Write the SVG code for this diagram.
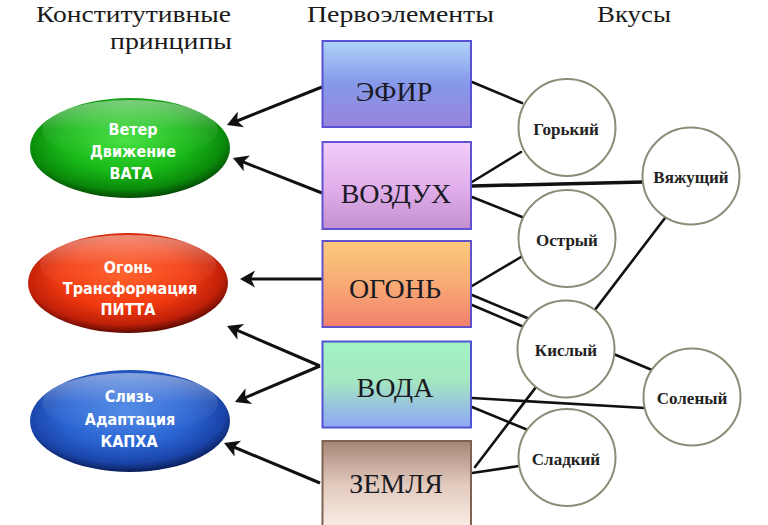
<svg xmlns="http://www.w3.org/2000/svg" width="768" height="525" viewBox="0 0 768 525">
<defs>
<style>
.hdr{font-family:"Liberation Serif","Times New Roman",serif;font-size:24px;fill:#1a1a1a}
.box{stroke-width:2}
.btxt{font-family:"Liberation Serif","Times New Roman",serif;font-size:28px;fill:#1a1a22;text-anchor:middle}
.ctxt{font-family:"Liberation Serif","Times New Roman",serif;font-size:17px;font-weight:bold;fill:#222;text-anchor:middle}
.circ{fill:#fff;stroke:#8c8c78;stroke-width:2}
.etxt{font-family:"DejaVu Sans Condensed","DejaVu Sans",sans-serif;font-size:16px;font-weight:bold;fill:#fff;text-anchor:middle}
.ln{stroke:#111;stroke-width:2.6;fill:none;stroke-linecap:round}
.arr{stroke:#111;stroke-width:3;fill:none;marker-end:url(#ah)}
</style>
<marker id="ah" markerUnits="userSpaceOnUse" viewBox="-8 -10 18 20" markerWidth="18" markerHeight="20" refX="0" refY="0" orient="auto">
<path d="M8,0 L-7,-8.5 L-3,0 L-7,8.5 Z" fill="#111"/>
</marker>
<linearGradient id="gEfir" x1="0" y1="0" x2="0" y2="1">
<stop offset="0" stop-color="#aed2f8"/><stop offset="0.5" stop-color="#8598ea"/><stop offset="1" stop-color="#9a84dc"/>
</linearGradient>
<linearGradient id="gVozd" x1="0" y1="0" x2="0" y2="1">
<stop offset="0" stop-color="#f2cdfa"/><stop offset="0.5" stop-color="#e2b0ec"/><stop offset="1" stop-color="#c48fcf"/>
</linearGradient>
<linearGradient id="gOgon" x1="0" y1="0" x2="0" y2="1">
<stop offset="0" stop-color="#fbca7c"/><stop offset="0.5" stop-color="#f8aa74"/><stop offset="1" stop-color="#f2806e"/>
</linearGradient>
<linearGradient id="gVoda" x1="0" y1="0" x2="0" y2="1">
<stop offset="0" stop-color="#a2f2c8"/><stop offset="0.45" stop-color="#a4e8c0"/><stop offset="1" stop-color="#8ea6f6"/>
</linearGradient>
<linearGradient id="gZem" x1="0" y1="0" x2="0" y2="1">
<stop offset="0" stop-color="#a68676"/><stop offset="0.5" stop-color="#e2cabe"/><stop offset="1" stop-color="#fbeee6"/>
</linearGradient>
<radialGradient id="rGreen" cx="0.48" cy="0.42" r="0.58">
<stop offset="0" stop-color="#3ee03a"/><stop offset="0.55" stop-color="#18b818"/><stop offset="0.85" stop-color="#0a8a0a"/><stop offset="1" stop-color="#034a03"/>
</radialGradient>
<radialGradient id="rRed" cx="0.48" cy="0.42" r="0.58">
<stop offset="0" stop-color="#ff5a22"/><stop offset="0.55" stop-color="#f23a10"/><stop offset="0.85" stop-color="#c02008"/><stop offset="1" stop-color="#5e0a02"/>
</radialGradient>
<radialGradient id="rBlue" cx="0.48" cy="0.42" r="0.58">
<stop offset="0" stop-color="#4a86e6"/><stop offset="0.55" stop-color="#2a64d2"/><stop offset="0.85" stop-color="#1a44a8"/><stop offset="1" stop-color="#0a1e5a"/>
</radialGradient>
<linearGradient id="gloss" x1="0" y1="0" x2="0" y2="1">
<stop offset="0" stop-color="#fff" stop-opacity="0.45"/><stop offset="0.5" stop-color="#fff" stop-opacity="0.08"/><stop offset="1" stop-color="#fff" stop-opacity="0"/>
</linearGradient>
</defs>
<rect width="768" height="525" fill="#fff"/>

<g id="headers">
<text class="hdr" x="231" y="22" text-anchor="end" textLength="195" lengthAdjust="spacingAndGlyphs">Конститутивные</text>
<text class="hdr" x="232" y="49" text-anchor="end" textLength="122" lengthAdjust="spacingAndGlyphs">принципы</text>
<text class="hdr" x="307" y="22" textLength="187" lengthAdjust="spacingAndGlyphs">Первоэлементы</text>
<text class="hdr" x="597" y="22" textLength="74" lengthAdjust="spacingAndGlyphs">Вкусы</text>
</g>

<g id="connectors">
<line class="arr" x1="322" y1="87" x2="234.4" y2="122"/>
<line class="arr" x1="322" y1="193" x2="240.4" y2="160.9"/>
<line class="arr" x1="322" y1="279" x2="248" y2="279"/>
<line class="arr" x1="320" y1="366" x2="234.4" y2="329.1"/>
<line class="arr" x1="320" y1="366" x2="242.4" y2="398.9"/>
<line class="arr" x1="320" y1="483" x2="231.4" y2="446"/>
<line class="ln" x1="472" y1="82" x2="522" y2="103"/>
<line class="ln" x1="472" y1="182" x2="521" y2="152"/>
<line class="ln" x1="472" y1="186" x2="643" y2="182" style="stroke-width:3.5"/>
<line class="ln" x1="472" y1="197" x2="522" y2="217"/>
<line class="ln" x1="472" y1="286" x2="521" y2="257"/>
<line class="ln" x1="472" y1="295" x2="652" y2="370"/>
<line class="ln" x1="472" y1="305" x2="524" y2="327"/>
<line class="ln" x1="475" y1="467" x2="665" y2="218"/>
<line class="ln" x1="472" y1="398" x2="645" y2="408"/>
<line class="ln" x1="472" y1="407" x2="528" y2="430"/>
<line class="ln" x1="472" y1="473" x2="519" y2="466"/>
</g>

<g id="vata">
<ellipse cx="130" cy="148" rx="100" ry="50" fill="url(#rGreen)"/>
<ellipse cx="130" cy="130" rx="88" ry="30" fill="url(#gloss)"/>
<text class="etxt" x="133" y="135">Ветер</text>
<text class="etxt" x="133" y="157">Движение</text>
<text class="etxt" x="131" y="179">ВАТА</text>
</g>
<g id="pitta">
<ellipse cx="128" cy="283" rx="100" ry="50" fill="url(#rRed)"/>
<ellipse cx="128" cy="265" rx="88" ry="30" fill="url(#gloss)"/>
<text class="etxt" x="128" y="273">Огонь</text>
<text class="etxt" x="130" y="294">Трансформация</text>
<text class="etxt" x="128" y="315">ПИТТА</text>
</g>
<g id="kapha">
<ellipse cx="130" cy="421" rx="100" ry="51" fill="url(#rBlue)"/>
<ellipse cx="130" cy="403" rx="88" ry="30" fill="url(#gloss)"/>
<text class="etxt" x="129" y="402">Слизь</text>
<text class="etxt" x="130" y="425">Адаптация</text>
<text class="etxt" x="129" y="447">КАПХА</text>
</g>

<g id="efir">
<rect class="box" x="322.5" y="41" width="148.5" height="86" fill="url(#gEfir)" stroke="#5a50d2"/>
<text class="btxt" x="394" y="101">ЭФИР</text>
</g>
<g id="vozduh">
<rect class="box" x="322.5" y="142" width="148.5" height="87" fill="url(#gVozd)" stroke="#6052d0"/>
<text class="btxt" x="396" y="203">ВОЗДУХ</text>
</g>
<g id="ogon">
<rect class="box" x="322.5" y="241" width="148.5" height="86" fill="url(#gOgon)" stroke="#6252c8"/>
<text class="btxt" x="395" y="298">ОГОНЬ</text>
</g>
<g id="voda">
<rect class="box" x="322.5" y="341.5" width="148.5" height="86" fill="url(#gVoda)" stroke="#5052d2"/>
<text class="btxt" x="395" y="397">ВОДА</text>
</g>
<g id="zemlya">
<rect class="box" x="322.5" y="441" width="148.5" height="88" fill="url(#gZem)" stroke="#7e6252"/>
<text class="btxt" x="396" y="493">ЗЕМЛЯ</text>
</g>

<g id="gorkiy"><circle class="circ" cx="567" cy="127.5" r="48.5"/><text class="ctxt" x="566" y="134.5">Горький</text></g>
<g id="vyazhushchiy"><circle class="circ" cx="691" cy="176" r="48.5"/><text class="ctxt" x="691" y="183">Вяжущий</text></g>
<g id="ostryy"><circle class="circ" cx="567" cy="238.5" r="48.5"/><text class="ctxt" x="567" y="245.5">Острый</text></g>
<g id="kislyy"><circle class="circ" cx="566" cy="349" r="48.5"/><text class="ctxt" x="566" y="356">Кислый</text></g>
<g id="solenyy"><circle class="circ" cx="692" cy="397" r="48.5"/><text class="ctxt" x="692" y="404">Соленый</text></g>
<g id="sladkiy"><circle class="circ" cx="567" cy="457.5" r="48.5"/><text class="ctxt" x="566" y="464.5">Сладкий</text></g>
</svg>
